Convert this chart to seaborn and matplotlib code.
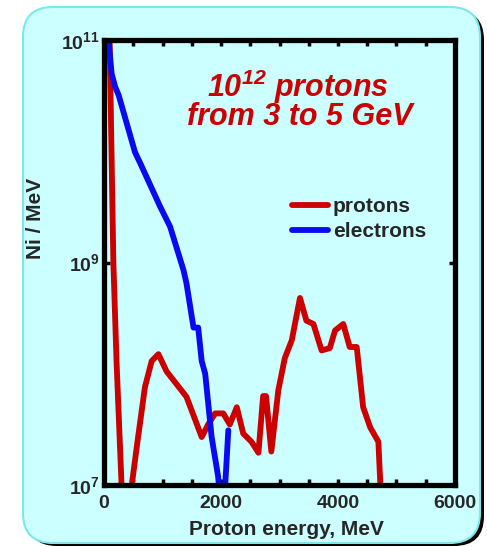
import matplotlib
matplotlib.use('Agg')
import matplotlib.pyplot as plt
import seaborn as sns
from matplotlib.patches import FancyBboxPatch
from matplotlib.ticker import FixedLocator, MultipleLocator, NullLocator

# ------------------------------
# Data
# ------------------------------

proton_energy = [90, 160, 215, 300, 330, 400, 560, 700, 815, 930, 1070, 1410,
                 1670, 1780, 1900, 2040, 2150, 2270, 2380, 2520, 2640, 2720,
                 2770, 2860, 2980, 3090, 3210, 3350, 3460, 3580, 3720, 3860,
                 3950, 4090, 4200, 4320, 4430, 4550, 4690, 4760]
proton_counts = [1.6e11, 1.0e9, 1.26e8, 1.0e7, 4.0e6, 5.0e6, 2.2e7, 7.6e7,
                 1.3e8, 1.5e8, 1.05e8, 6.2e7, 2.7e7, 3.5e7, 4.4e7, 4.4e7,
                 3.5e7, 5.0e7, 2.9e7, 2.45e7, 1.95e7, 6.3e7, 6.3e7, 2.0e7,
                 7.1e7, 1.38e8, 2.0e8, 4.8e8, 3.0e8, 2.8e8, 1.62e8, 1.7e8,
                 2.45e8, 2.8e8, 1.74e8, 1.74e8, 5.0e7, 3.3e7, 2.45e7, 4.0e6]

electron_energy = [70, 130, 190, 250, 530, 615, 957, 1130, 1360, 1410, 1530,
                   1610, 1670, 1730, 1840, 1950, 2010, 2040, 2125]
electron_counts = [1.12e11, 5.0e10, 3.8e10, 3.2e10, 9.8e9, 7.9e9, 3.2e9,
                   2.1e9, 8.5e8, 6.5e8, 2.6e8, 2.6e8, 1.3e8, 1.0e8, 2.7e7,
                   1.2e7, 5.0e6, 5.0e6, 3.1e7]

x_ticks = [0, 2000, 4000, 6000]
y_ticks = [1e7, 1e9, 1e11]
y_tick_labels = [r'$\mathbf{10^{7}}$', r'$\mathbf{10^{9}}$', r'$\mathbf{10^{11}}$']

RED = '#cc0000'
BLUE = '#0a0af0'
BG = '#ccffff'

# ------------------------------
# Style
# ------------------------------

sns.set_style('ticks')
plt.rcParams['font.family'] = ['Liberation Sans', 'DejaVu Sans']
plt.rcParams['font.weight'] = 'bold'
plt.rcParams['mathtext.fontset'] = 'custom'
plt.rcParams['mathtext.rm'] = 'Liberation Sans'
plt.rcParams['mathtext.it'] = 'Liberation Sans:italic'
plt.rcParams['mathtext.bf'] = 'Liberation Sans:bold'
plt.rcParams['mathtext.bfit'] = 'Liberation Sans:italic:bold'
plt.rcParams['lines.solid_joinstyle'] = 'round'
plt.rcParams['lines.solid_capstyle'] = 'round'

fig = plt.figure(figsize=(4.87, 5.47), dpi=100, facecolor='white')

# rounded panel with a dark drop shadow (in inches)
shadow = FancyBboxPatch((0.27, 0.01), 4.57, 5.36,
                        boxstyle='round,pad=0,rounding_size=0.3',
                        transform=fig.dpi_scale_trans,
                        facecolor='black', edgecolor='none', zorder=-10)
panel = FancyBboxPatch((0.23, 0.04), 4.57, 5.36,
                       boxstyle='round,pad=0,rounding_size=0.3',
                       transform=fig.dpi_scale_trans,
                       facecolor=BG, edgecolor='#7ce8ee', lw=1.5, zorder=-9)
fig.add_artist(shadow)
fig.add_artist(panel)

ax = fig.add_axes([104 / 487, 62 / 547, 351 / 487, 445 / 547])
ax.set_facecolor(BG)

sns.lineplot(x=proton_energy, y=proton_counts, color=RED, lw=4.2,
             estimator=None, sort=False, label='protons', ax=ax)
sns.lineplot(x=electron_energy, y=electron_counts, color=BLUE, lw=4.2,
             estimator=None, sort=False, label='electrons', ax=ax)

ax.set_yscale('log')
ax.set_xlim(0, 6000)
ax.set_ylim(1e7, 1e11)

ax.xaxis.set_major_locator(FixedLocator(x_ticks))
ax.xaxis.set_minor_locator(MultipleLocator(500))
ax.set_xticklabels([str(t) for t in x_ticks])
ax.yaxis.set_major_locator(FixedLocator(y_ticks))
ax.yaxis.set_minor_locator(NullLocator())
ax.set_yticklabels(y_tick_labels)

ax.tick_params(which='both', direction='in', top=True, right=True,
               length=4, width=2.5, color='black')
ax.tick_params(axis='x', which='major', labelsize=14, pad=7)
ax.tick_params(axis='y', which='major', labelsize=14, pad=3)

for side in ['left', 'right', 'top', 'bottom']:
    ax.spines[side].set_linewidth(3.8)
    ax.spines[side].set_color('black')

ax.set_xlabel('Proton energy, MeV', fontsize=15, fontweight='bold')
ax.set_ylabel('Ni / MeV', fontsize=15, fontweight='bold')
ax.xaxis.set_label_coords(0.521, -0.079)
ax.yaxis.set_label_coords(-0.168, 0.598)

ax.text(0.553, 0.8726, r'$\mathbfit{10^{12}}$ protons', transform=ax.transAxes,
        ha='center', va='baseline', color=RED, fontsize=22,
        fontweight='bold', fontstyle='italic')
ax.text(0.558, 0.809, 'from 3 to 5 GeV', transform=ax.transAxes,
        ha='center', va='baseline', color=RED, fontsize=22,
        fontweight='bold', fontstyle='italic')

leg = ax.legend(loc='upper left', bbox_to_anchor=(0.536, 0.647), frameon=False,
                fontsize=15, handlelength=1.7, handletextpad=0.25,
                labelspacing=0.3, borderpad=0, borderaxespad=0)
for line in leg.get_lines():
    line.set_linewidth(4.2)

fig.savefig('out.png', dpi=100, facecolor='white')
